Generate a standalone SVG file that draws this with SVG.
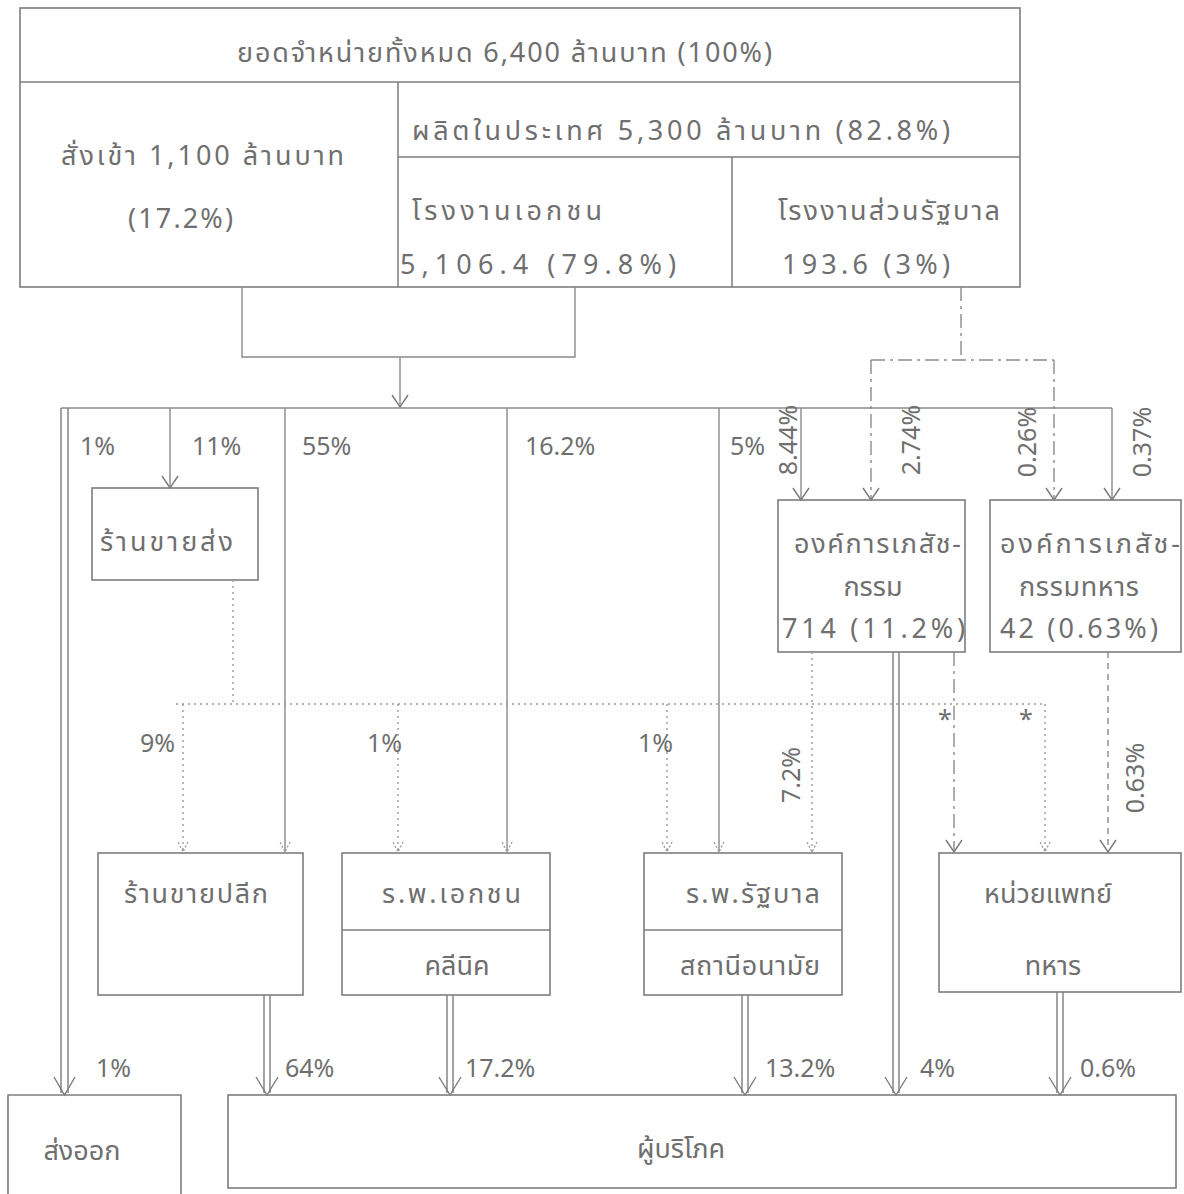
<svg xmlns="http://www.w3.org/2000/svg" width="1184" height="1194" viewBox="0 0 1184 1194">
<style>
  text { font-family: "Noto Sans Thai", "Noto Sans", "DejaVu Sans", sans-serif; font-size: 27px; fill: #6f6f6f; }
  .lbl { font-size: 25px; }
  .box { fill: none; stroke: #7d7d7d; stroke-width: 1.6; }
  .ln { fill: none; stroke: #7d7d7d; stroke-width: 1.5; }
  .solid { fill: none; stroke: #8a8a8a; stroke-width: 1.4; }
  .dash { fill: none; stroke: #8a8a8a; stroke-width: 1.4; stroke-dasharray: 14 5 3 5; }
  .dot { fill: none; stroke: #9a9a9a; stroke-width: 1.4; stroke-dasharray: 2 4; }
  .dbl { fill: none; stroke: #7d7d7d; stroke-width: 1.4; }
</style>
<defs>
  <marker id="ah" markerUnits="userSpaceOnUse" markerWidth="20" markerHeight="20" refX="16" refY="10" orient="auto" viewBox="0 0 20 20">
    <path d="M4,2 L16,10 L4,18" fill="none" stroke="#7d7d7d" stroke-width="1.5"/>
  </marker>
  <marker id="ahs" markerUnits="userSpaceOnUse" markerWidth="16" markerHeight="16" refX="13" refY="8" orient="auto" viewBox="0 0 16 16">
    <path d="M3,3 L13,8 L3,13" fill="none" stroke="#9a9a9a" stroke-width="1.3" stroke-dasharray="2 2"/>
  </marker>
</defs>
<rect width="1184" height="1194" fill="#ffffff"/>

<g id="top-table">
  <rect class="box" x="20" y="8" width="1000" height="279"/>
  <line class="ln" x1="20" y1="82" x2="1020" y2="82"/>
  <line class="ln" x1="398" y1="82" x2="398" y2="287"/>
  <line class="ln" x1="398" y1="157" x2="1020" y2="157"/>
  <line class="ln" x1="732" y1="157" x2="732" y2="287"/>
  <text x="237" y="62" textLength="535" lengthAdjust="spacing">ยอดจำหน่ายทั้งหมด 6,400 ล้านบาท (100%)</text>
  <text x="61" y="165" textLength="283" lengthAdjust="spacing">สั่งเข้า 1,100 ล้านบาท</text>
  <text x="128" y="228" textLength="105" lengthAdjust="spacing">(17.2%)</text>
  <text x="412" y="140" textLength="538" lengthAdjust="spacing">ผลิตในประเทศ 5,300 ล้านบาท (82.8%)</text>
  <text x="412" y="220" textLength="190" lengthAdjust="spacing">โรงงานเอกชน</text>
  <text x="400" y="274" textLength="276" lengthAdjust="spacing">5,106.4 (79.8%)</text>
  <text x="778" y="220" textLength="222" lengthAdjust="spacing">โรงงานส่วนรัฐบาล</text>
  <text x="782" y="274" textLength="168" lengthAdjust="spacing">193.6  (3%)</text>
</g>

<g id="wholesale">
  <rect class="box" x="92" y="488" width="166" height="92"/>
  <text x="100" y="551" textLength="133" lengthAdjust="spacing">ร้านขายส่ง</text>
</g>

<g id="gpo">
  <rect class="box" x="778" y="500" width="187" height="152"/>
  <text x="794" y="553" textLength="167" lengthAdjust="spacing">องค์การเภสัช-</text>
  <text x="873" y="596" text-anchor="middle">กรรม</text>
  <text x="782" y="638" textLength="183" lengthAdjust="spacing">714 (11.2%)</text>
</g>

<g id="military-gpo">
  <rect class="box" x="990" y="500" width="191" height="152"/>
  <text x="1000" y="553" textLength="180" lengthAdjust="spacing">องค์การเภสัช-</text>
  <text x="1019" y="596" textLength="120" lengthAdjust="spacing">กรรมทหาร</text>
  <text x="1000" y="638" textLength="158" lengthAdjust="spacing">42 (0.63%)</text>
</g>

<g id="retail">
  <rect class="box" x="98" y="853" width="205" height="142"/>
  <text x="124" y="903" textLength="144" lengthAdjust="spacing">ร้านขายปลีก</text>
</g>

<g id="private-hospital">
  <rect class="box" x="342" y="853" width="208" height="142"/>
  <line class="ln" x1="342" y1="930" x2="550" y2="930"/>
  <text x="382" y="903" textLength="139" lengthAdjust="spacing">ร.พ.เอกชน</text>
  <text x="457" y="975" text-anchor="middle">คลีนิค</text>
</g>

<g id="gov-hospital">
  <rect class="box" x="644" y="853" width="198" height="142"/>
  <line class="ln" x1="644" y1="930" x2="842" y2="930"/>
  <text x="686" y="903" textLength="134" lengthAdjust="spacing">ร.พ.รัฐบาล</text>
  <text x="680" y="975" textLength="140" lengthAdjust="spacing">สถานีอนามัย</text>
</g>

<g id="military-medical">
  <rect class="box" x="939" y="853" width="242" height="139"/>
  <text x="984" y="903" textLength="128" lengthAdjust="spacing">หน่วยแพทย์</text>
  <text x="1053" y="975" text-anchor="middle">ทหาร</text>
</g>

<g id="export">
  <path class="box" d="M8,1196 V1095 H181 V1196"/>
  <text x="82" y="1160" text-anchor="middle">ส่งออก</text>
</g>

<g id="consumer">
  <rect class="box" x="228" y="1095" width="948" height="93"/>
  <text x="681" y="1158" text-anchor="middle">ผู้บริโภค</text>
</g>

<g id="connectors">
  <path class="solid" d="M242,287 V357 H575 V287"/>
  <path class="solid" d="M400,357 V407" marker-end="url(#ah)"/>
  <path class="solid" d="M61,408 H1112"/>
  <path class="dbl" d="M61,408 V1093 M68,408 V1093"/>
  <path class="solid" d="M170,408 V488" marker-end="url(#ah)"/>
  <path class="solid" d="M285,408 V852" marker-end="url(#ahs)"/>
  <path class="solid" d="M507,408 V852" marker-end="url(#ahs)"/>
  <path class="solid" d="M719,408 V852" marker-end="url(#ahs)"/>
  <path class="solid" d="M801,408 V500" marker-end="url(#ah)"/>
  <path class="solid" d="M1112,408 V500" marker-end="url(#ah)"/>
  <path class="dash" d="M961,287 V360"/>
  <path class="dash" d="M871,360 H1054"/>
  <path class="dash" d="M871,360 V500" marker-end="url(#ah)"/>
  <path class="dash" d="M1054,360 V500" marker-end="url(#ah)"/>
  <path class="dot" d="M233,580 V704"/>
  <path class="dot" d="M176,704 H1046"/>
  <path class="dot" d="M183,704 V852" marker-end="url(#ahs)"/>
  <path class="dot" d="M398,704 V852" marker-end="url(#ahs)"/>
  <path class="dot" d="M667,704 V852" marker-end="url(#ahs)"/>
  <path class="dot" d="M1045,704 V852" marker-end="url(#ahs)"/>
  <path class="dot" d="M812,652 V852" marker-end="url(#ahs)"/>
  <path class="dash" d="M954,652 V852" marker-end="url(#ah)"/>
  <path class="dash" d="M1108,652 V852" style="stroke-dasharray: 6 5" marker-end="url(#ah)"/>
  <path class="dbl" d="M893,652 V1093 M899,652 V1093"/>
  <path class="dbl" d="M264,995 V1093 M270,995 V1093"/>
  <path class="dbl" d="M447,995 V1093 M453,995 V1093"/>
  <path class="dbl" d="M742,995 V1093 M748,995 V1093"/>
  <path class="dbl" d="M1057,992 V1093 M1063,992 V1093"/>
  <path class="dbl" d="M54,1077 L64.5,1095 L75,1077 M256,1077 L267,1095 L278,1077 M439,1077 L450,1095 L461,1077 M734,1077 L745,1095 L756,1077 M885,1077 L896,1095 L907,1077 M1049,1077 L1060,1095 L1071,1077"/>
</g>

<g id="labels">
  <text class="lbl" x="80" y="455">1%</text>
  <text class="lbl" x="192" y="455">11%</text>
  <text class="lbl" x="302" y="455">55%</text>
  <text class="lbl" x="525" y="455">16.2%</text>
  <text class="lbl" x="730" y="455">5%</text>
  <text class="lbl" transform="translate(797,440) rotate(-90)" text-anchor="middle">8.44%</text>
  <text class="lbl" transform="translate(920,440) rotate(-90)" text-anchor="middle">2.74%</text>
  <text class="lbl" transform="translate(1036,442) rotate(-90)" text-anchor="middle">0.26%</text>
  <text class="lbl" transform="translate(1151,442) rotate(-90)" text-anchor="middle">0.37%</text>
  <text class="lbl" x="140" y="752">9%</text>
  <text class="lbl" x="367" y="752">1%</text>
  <text class="lbl" x="638" y="752">1%</text>
  <text class="lbl" transform="translate(800,775) rotate(-90)" text-anchor="middle">7.2%</text>
  <text class="lbl" transform="translate(1144,778) rotate(-90)" text-anchor="middle">0.63%</text>
  <text class="lbl" x="945" y="728" text-anchor="middle">*</text>
  <text class="lbl" x="1026" y="728" text-anchor="middle">*</text>
  <text class="lbl" x="96" y="1077">1%</text>
  <text class="lbl" x="285" y="1077">64%</text>
  <text class="lbl" x="465" y="1077">17.2%</text>
  <text class="lbl" x="765" y="1077">13.2%</text>
  <text class="lbl" x="920" y="1077">4%</text>
  <text class="lbl" x="1080" y="1077">0.6%</text>
</g>
</svg>
